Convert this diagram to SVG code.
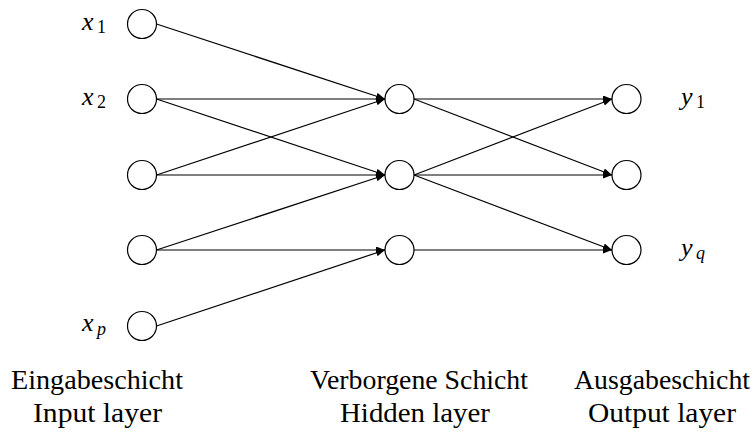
<svg xmlns="http://www.w3.org/2000/svg" width="754" height="432" viewBox="0 0 754 432">
<style>
.n{fill:#fff;stroke:#000;stroke-width:1.2}
.c line{stroke:#000;stroke-width:1.2;marker-end:url(#ah)}
.m{font-style:italic;font-size:26px}
.s{font-size:18px}
.t{font-size:27px;text-anchor:middle}
</style>
<defs>
<marker id="ah" markerUnits="userSpaceOnUse" markerWidth="10" markerHeight="8" refX="9" refY="3.5" orient="auto">
<path d="M0,0 L9,3.5 L0,7 z" fill="#000"/>
</marker>
</defs>
<g class="c" id="connectors">
<line x1="156.5" y1="24" x2="385" y2="99"/>
<line x1="156.5" y1="99" x2="385" y2="99"/>
<line x1="156.5" y1="99" x2="385" y2="175"/>
<line x1="156.5" y1="175" x2="385" y2="99"/>
<line x1="156.5" y1="175" x2="385" y2="175"/>
<line x1="156.5" y1="250" x2="385" y2="175"/>
<line x1="156.5" y1="250" x2="385" y2="250"/>
<line x1="156.5" y1="326" x2="385" y2="250"/>
<line x1="414" y1="99" x2="612" y2="99"/>
<line x1="414" y1="99" x2="612" y2="175"/>
<line x1="414" y1="175" x2="612" y2="99"/>
<line x1="414" y1="175" x2="612" y2="175"/>
<line x1="414" y1="175" x2="612" y2="250"/>
<line x1="414" y1="250" x2="612" y2="250"/>
</g>
<g font-family="Liberation Serif, DejaVu Serif, serif">
<g id="in1"><circle class="n" cx="142" cy="24" r="14.5"/><text class="m" x="82" y="30">x</text><text class="s" x="97" y="33">1</text></g>
<g id="in2"><circle class="n" cx="142" cy="99" r="14.5"/><text class="m" x="82" y="105">x</text><text class="s" x="97" y="108">2</text></g>
<g id="in3"><circle class="n" cx="142" cy="175" r="14.5"/></g>
<g id="in4"><circle class="n" cx="142" cy="250" r="14.5"/></g>
<g id="in5"><circle class="n" cx="142" cy="326" r="14.5"/><text class="m" x="82" y="331">x</text><text class="s" x="97" y="335" font-style="italic">p</text></g>
<g id="h1"><circle class="n" cx="399.5" cy="99" r="14.5"/></g>
<g id="h2"><circle class="n" cx="399.5" cy="175" r="14.5"/></g>
<g id="h3"><circle class="n" cx="399.5" cy="250" r="14.5"/></g>
<g id="o1"><circle class="n" cx="626.5" cy="99" r="14.5"/><text class="m" x="681" y="105">y</text><text class="s" x="696" y="108">1</text></g>
<g id="o2"><circle class="n" cx="626.5" cy="175" r="14.5"/></g>
<g id="o3"><circle class="n" cx="626.5" cy="250" r="14.5"/><text class="m" x="681" y="256">y</text><text class="s" x="696" y="259" font-style="italic">q</text></g>
<g id="labels">
<text class="t" x="97" y="389" textLength="172" lengthAdjust="spacingAndGlyphs">Eingabeschicht</text>
<text class="t" x="97.5" y="422" textLength="129" lengthAdjust="spacingAndGlyphs">Input layer</text>
<text class="t" x="419" y="389" textLength="218" lengthAdjust="spacingAndGlyphs">Verborgene Schicht</text>
<text class="t" x="415" y="422" textLength="150" lengthAdjust="spacingAndGlyphs">Hidden layer</text>
<text class="t" x="662" y="389" textLength="176" lengthAdjust="spacingAndGlyphs">Ausgabeschicht</text>
<text class="t" x="662" y="422" textLength="148" lengthAdjust="spacingAndGlyphs">Output layer</text>
</g>
</g>
</svg>
